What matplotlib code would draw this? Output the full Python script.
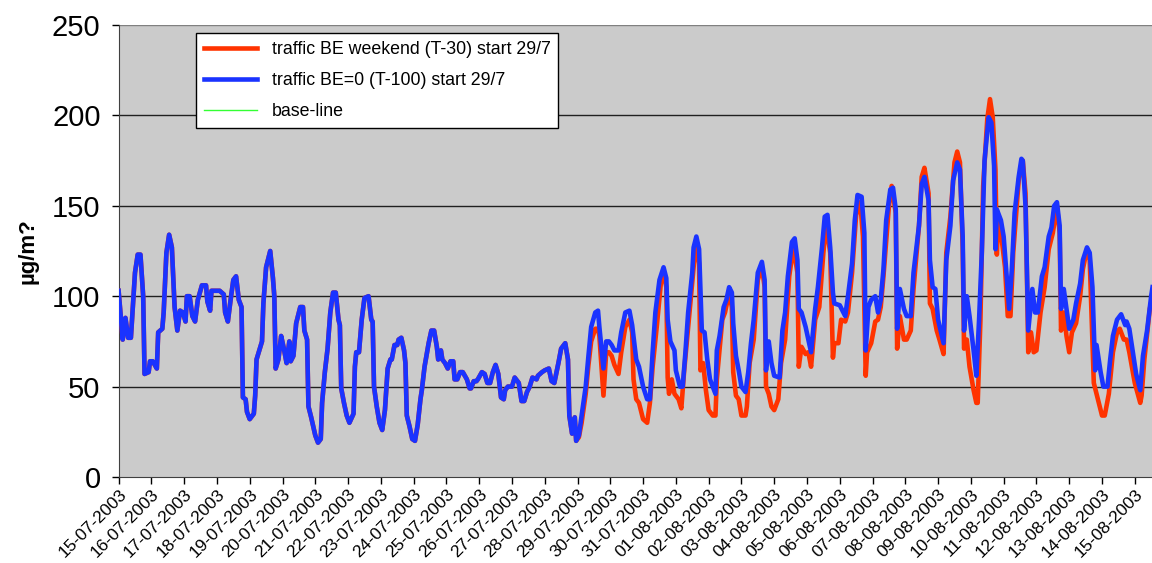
import numpy as np
import pandas as pd
import matplotlib
matplotlib.use("Agg")
import matplotlib.pyplot as plt

# hours since 15-07-2003 00:00 and concentrations (ug/m3)
common_h = [0, 3, 5, 7, 9, 12, 14, 16, 18, 19, 22, 23, 25, 28, 29, 32, 33, 35, 37, 39,
            41, 43, 45, 47, 49, 50, 52, 54, 56, 58, 61, 64, 65, 67, 68, 70, 74, 77, 78, 80,
            82, 84, 86, 88, 90, 91, 93, 94, 96, 99, 100, 101, 103, 105, 106, 108, 111, 113, 114, 115,
            117, 119, 121, 123, 125, 126, 128, 130, 133, 135, 136, 138, 139, 141, 144, 146, 148, 149, 151, 153,
            155, 157, 159, 161, 162, 163, 165, 167, 169, 172, 173, 174, 176, 178, 180, 183, 185, 186, 187, 189,
            191, 193, 195, 197, 199, 200, 202, 204, 205, 207, 209, 210, 211, 213, 215, 217, 219, 221, 222, 224,
            227, 229, 231, 233, 234, 236, 237, 239, 241, 243, 245, 246, 248, 250, 252, 255, 257, 258, 260, 262,
            263, 266, 268, 270, 272, 274, 276, 278, 280, 282, 283, 285, 288, 290, 293, 295, 297, 299, 301, 303,
            306, 307, 310, 312, 315, 317, 319, 322, 324, 327, 329, 330, 332, 334, 335]
common_v = [103, 76, 88, 77, 77, 113, 123, 123, 100, 57, 58, 64, 64, 60, 80, 82, 91, 124, 134, 127,
            94, 81, 92, 91, 86, 100, 100, 89, 86, 98, 106, 106, 97, 92, 103, 103, 103, 101, 91, 86,
            98, 109, 111, 98, 94, 44, 43, 36, 32, 35, 45, 65, 70, 75, 96, 116, 125, 110, 100, 60,
            65, 78, 71, 63, 75, 64, 67, 85, 94, 94, 81, 76, 39, 33, 23, 19, 21, 41, 58, 71,
            91, 102, 102, 87, 84, 49, 41, 34, 30, 35, 61, 69, 69, 87, 99, 100, 87, 86, 50, 39,
            30, 26, 37, 60, 65, 65, 73, 73, 76, 77, 70, 63, 34, 28, 21, 20, 29, 43, 48, 61,
            74, 81, 81, 72, 65, 70, 65, 63, 60, 64, 64, 54, 54, 58, 58, 54, 49, 49, 53, 53,
            54, 58, 57, 52, 52, 58, 62, 57, 44, 43, 48, 50, 50, 55, 52, 42, 42, 47, 50, 55,
            54, 56, 58, 59, 60, 53, 52, 63, 71, 74, 65, 34, 24, 33, 20]

# scenario "traffic BE=0 (T-100) start 29/7"
blue_h = [337, 339, 342, 344, 346, 349, 351, 352, 355, 357, 359, 361, 363, 366, 368, 371, 374, 376, 379, 381,
          384, 387, 389, 391, 393, 396, 399, 401, 402, 404, 407, 408, 411, 413, 415, 417, 420, 421, 423, 425,
          427, 429, 431, 433, 437, 438, 440, 443, 445, 447, 449, 450, 452, 454, 456, 459, 461, 463, 465, 468,
          471, 473, 474, 476, 478, 480, 484, 486, 488, 490, 493, 495, 497, 498, 500, 503, 505, 507, 510, 512,
          515, 517, 519, 521, 523, 524, 528, 532, 534, 537, 539, 541, 544, 546, 547, 549, 551, 554, 556, 558,
          560, 562, 565, 567, 569, 570, 572, 575, 577, 580, 582, 586, 588, 590, 593, 594, 596, 598, 600, 604,
          606, 609, 611, 614, 616, 618, 619, 621, 623, 626, 628, 630, 632, 634, 637, 639, 641, 642, 643, 646,
          648, 650, 652, 654, 656, 659, 661, 662, 664, 666, 669, 671, 673, 676, 678, 681, 683, 685, 687, 689,
          690, 692, 694, 696, 699, 701, 704, 706, 709, 711, 713, 715, 716, 719, 721, 724, 726, 728, 731, 734,
          737, 738, 740, 743, 745, 748, 750, 753, 756, 757]
blue_v = [23, 34, 50, 67, 83, 91, 92, 83, 60, 75, 75, 73, 70, 70, 80, 91, 92, 84, 65, 61,
          50, 43, 43, 69, 91, 109, 116, 110, 87, 75, 70, 59, 50, 50, 69, 91, 113, 127, 133, 126,
          81, 80, 65, 54, 46, 70, 78, 94, 98, 105, 102, 85, 67, 59, 50, 47, 58, 74, 87, 113,
          119, 109, 59, 75, 63, 56, 55, 81, 91, 111, 130, 132, 120, 93, 91, 83, 76, 69, 93, 105,
          127, 144, 145, 127, 102, 96, 95, 89, 100, 118, 142, 156, 155, 135, 70, 94, 98, 100, 91, 98,
          115, 142, 159, 160, 148, 82, 104, 93, 89, 89, 113, 139, 162, 166, 153, 120, 105, 104, 87, 74,
          120, 139, 164, 174, 170, 133, 81, 100, 89, 70, 56, 87, 124, 175, 199, 196, 172, 126, 148, 142,
          133, 113, 93, 115, 146, 166, 176, 175, 150, 81, 104, 91, 91, 111, 116, 133, 138, 150, 152, 139,
          93, 104, 93, 82, 87, 96, 107, 120, 127, 124, 105, 59, 73, 58, 50, 50, 65, 78, 87, 90,
          84, 86, 82, 67, 57, 48, 67, 81, 100, 105]

# scenario "traffic BE weekend (T-30) start 29/7"
red_h = [337, 339, 342, 344, 346, 349, 351, 352, 355, 357, 359, 361, 363, 366, 368, 371, 374, 376, 377, 379,
         381, 384, 387, 389, 391, 394, 397, 399, 401, 402, 403, 405, 407, 410, 412, 414, 417, 421, 423, 425,
         426, 428, 430, 432, 435, 437, 438, 442, 444, 447, 449, 450, 452, 454, 456, 459, 460, 462, 465, 468,
         471, 473, 474, 476, 478, 480, 483, 485, 488, 491, 494, 497, 498, 500, 503, 505, 507, 510, 513, 516,
         518, 521, 523, 524, 527, 529, 532, 534, 537, 540, 543, 545, 547, 548, 551, 554, 556, 558, 560, 564,
         566, 569, 570, 572, 575, 577, 580, 582, 586, 588, 590, 593, 594, 596, 599, 601, 604, 606, 609, 612,
         614, 616, 618, 619, 621, 623, 626, 628, 629, 631, 633, 636, 638, 640, 642, 643, 644, 646, 649, 651,
         653, 655, 659, 662, 664, 666, 668, 670, 672, 675, 678, 681, 684, 687, 689, 690, 692, 694, 696, 698,
         701, 704, 706, 709, 711, 714, 716, 720, 722, 725, 728, 731, 733, 736, 738, 740, 744, 748, 749, 751,
         755, 757]
red_v = [22, 30, 46, 62, 75, 82, 82, 78, 45, 69, 69, 67, 62, 57, 69, 83, 87, 80, 54, 43,
         41, 32, 30, 41, 61, 83, 107, 113, 105, 55, 46, 54, 46, 43, 38, 58, 83, 116, 131, 118,
         59, 63, 48, 37, 34, 34, 54, 87, 91, 102, 94, 58, 45, 43, 34, 34, 39, 63, 76, 109,
         116, 105, 50, 46, 39, 37, 43, 63, 76, 111, 127, 113, 61, 72, 68, 69, 61, 87, 94, 124,
         140, 124, 66, 74, 74, 87, 86, 91, 113, 145, 152, 133, 56, 69, 74, 86, 87, 94, 111, 150,
         161, 146, 71, 89, 76, 76, 81, 104, 139, 166, 171, 157, 96, 93, 81, 76, 68, 124, 144, 174,
         180, 174, 127, 71, 76, 61, 48, 41, 41, 87, 161, 198, 209, 199, 170, 123, 142, 135, 116, 89,
         89, 124, 164, 175, 157, 69, 80, 69, 70, 91, 105, 126, 135, 150, 135, 81, 91, 78, 69, 80,
         85, 100, 115, 126, 120, 52, 46, 34, 34, 46, 69, 80, 82, 76, 76, 69, 52, 41, 45, 65,
         93, 100]

n_days = 32
day_labels = pd.date_range("2003-07-15", periods=n_days, freq="D").strftime("%d-%m-%Y")
legend_labels = ["traffic BE weekend (T-30) start 29/7",
                 "traffic BE=0 (T-100) start 29/7",
                 "base-line"]

red_x = np.array(common_h + red_h)
red_y = np.array(common_v + red_v)
blue_x = np.array(common_h + blue_h)
blue_y = np.array(common_v + blue_v)

plt.rcParams["font.family"] = ["Liberation Sans", "DejaVu Sans"]

fig = plt.figure(figsize=(11.52, 5.63), dpi=100)
ax = fig.add_axes([118.6 / 1152, 1 - 477 / 563, 1 - 118.6 / 1152, (477 - 25) / 563])
ax.set_facecolor("#CBCBCB")

# base-line lies under the scenarios, only a trace of it shows
ax.plot(red_x, red_y, color="#33FF33", lw=0.8, zorder=2, label=legend_labels[2])
ax.plot(red_x, red_y, color="#FF3300", lw=3.3, zorder=3, label=legend_labels[0])
ax.plot(blue_x, blue_y, color="#1A33FF", lw=3.3, zorder=4, label=legend_labels[1])

ax.set_ylim(0, 250)
ax.set_yticks(range(0, 251, 50))
ax.set_xlim(0, (1152 - 118.6) / 32.78 * 24)
ax.set_xticks(np.arange(n_days) * 24)
ax.set_xticklabels(day_labels, rotation=45, ha="right", va="top",
                   rotation_mode="anchor", fontsize=12.6)
ax.tick_params(axis="y", labelsize=21, length=5, width=1, direction="out", pad=8)
ax.tick_params(axis="x", length=5, width=1, direction="out", pad=2)

for v in range(50, 251, 50):
    ax.axhline(v, color="#202020" if v < 250 else "#808080", lw=1, zorder=1)

ax.spines["right"].set_visible(False)
ax.spines["top"].set_visible(False)
ax.spines["left"].set_color("#404040")
ax.spines["bottom"].set_color("#404040")

ax.set_ylabel("µg/m?", fontsize=16, fontweight="bold", labelpad=10)

h, l = ax.get_legend_handles_labels()
order = [1, 2, 0]
leg = ax.legend([h[i] for i in order], [l[i] for i in order],
                loc="upper left", bbox_to_anchor=(196 / 1152, 1 - 33 / 563),
                bbox_transform=fig.transFigure, fontsize=12.8, frameon=True,
                fancybox=False, edgecolor="black", framealpha=1,
                handlelength=3, handletextpad=0.8, labelspacing=0.8,
                borderpad=0.45, borderaxespad=0)
leg.get_frame().set_linewidth(1)
leg.legend_handles[2].set_linewidth(1)

fig.savefig("out.png", dpi=100)
